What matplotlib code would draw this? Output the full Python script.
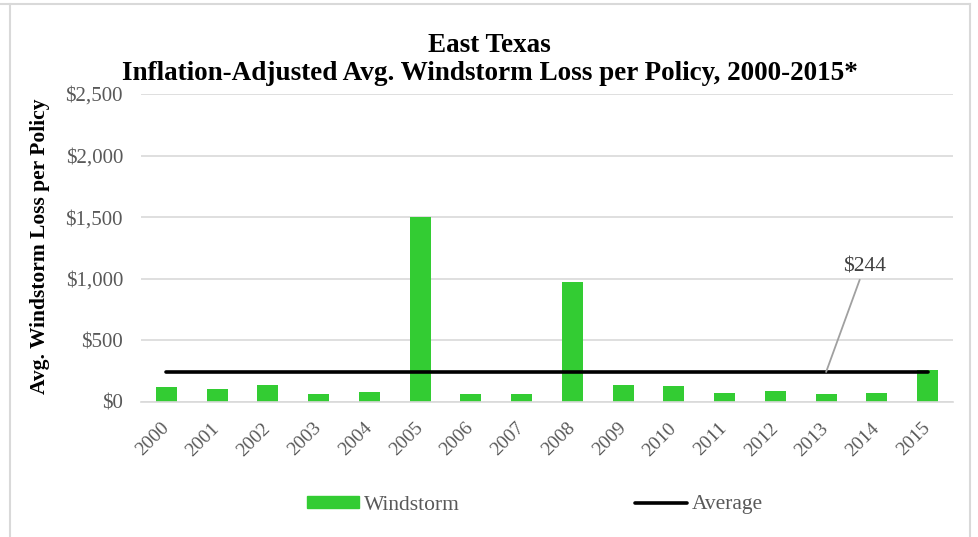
import matplotlib
matplotlib.use('Agg')
import matplotlib.pyplot as plt
from matplotlib.patches import Rectangle
from matplotlib.lines import Line2D

# Data
years = ['2000', '2001', '2002', '2003', '2004', '2005', '2006', '2007',
         '2008', '2009', '2010', '2011', '2012', '2013', '2014', '2015']
windstorm = [119, 106, 138, 62, 79, 1502, 62, 65,
             974, 140, 127, 71, 87, 62, 71, 257]
average = 244
yticks = [0, 500, 1000, 1500, 2000, 2500]

plt.rcParams['font.family'] = ['Liberation Serif', 'DejaVu Serif']

W, H = 979, 537
fig = plt.figure(figsize=(W / 100, H / 100), dpi=100)
ax = fig.add_axes([141 / W, 1 - 402 / H, 812 / W, 308 / H])

x = range(len(years))
ax.bar(x, windstorm, width=0.41, color='#33cc33', zorder=2)
ax.plot([0, len(years) - 1], [average] * 2, color='black', lw=2.6,
        solid_capstyle='round', zorder=3)

ax.annotate('$244', xy=(13.0, average), xytext=(13.75, 1015),
            ha='center', va='bottom', fontsize=15.5, color='#404040',
            arrowprops=dict(arrowstyle='-', color='#a0a0a0', lw=1.3,
                            shrinkA=0, shrinkB=0))

ax.set_xlim(-0.5, len(years) - 0.5)
ax.set_ylim(0, 2500)
ax.set_yticks(yticks)
ax.set_yticklabels(['${:,}'.format(v) for v in yticks], fontsize=15, color='#595959')
ax.tick_params(axis='y', length=0, pad=13)
ax.set_xticks(list(x))
ax.set_xticklabels(years, rotation=45, ha='right', va='center',
                   rotation_mode='anchor', fontsize=14, color='#595959')
ax.tick_params(axis='x', length=0, pad=17)

ax.grid(axis='y', color='#d9d9d9', lw=1.2, zorder=0)
for s in ['top', 'right', 'left']:
    ax.spines[s].set_visible(False)
ax.spines['bottom'].set_color('#d9d9d9')
ax.spines['bottom'].set_linewidth(1.2)

ax.set_ylabel('Avg. Windstorm Loss per Policy', fontsize=15.5, fontweight='bold')
ax.yaxis.set_label_coords(50 / W, 1 - 246 / H, transform=fig.transFigure)

fig.text(0.5, 1 - 45 / H, 'East Texas', ha='center', va='center',
         fontsize=19.5, fontweight='bold')
fig.text(0.5, 1 - 73 / H, 'Inflation-Adjusted Avg. Windstorm Loss per Policy, 2000-2015*',
         ha='center', va='center', fontsize=19.5, fontweight='bold')

handles = [Rectangle((0, 0), 1, 1, color='#33cc33'),
           Line2D([0], [0], color='black', lw=2.6, solid_capstyle='round')]
fig.legend(handles, ['Windstorm', 'Average'], loc='center',
           bbox_to_anchor=(535 / W, 1 - 505 / H), ncol=2, frameon=False,
           fontsize=15.5, labelcolor='#595959', handlelength=2.42,
           handleheight=0.47, handletextpad=0.23, columnspacing=8.1)

# chart frame
border = dict(color='#d9d9d9', lw=1.5, transform=fig.transFigure)
fig.add_artist(Line2D([0, 970 / W], [1 - 4 / H] * 2, **border))
fig.add_artist(Line2D([10 / W] * 2, [0, 1 - 4 / H], **border))
fig.add_artist(Line2D([970 / W] * 2, [0, 1 - 4 / H], **border))

fig.savefig('out.png', dpi=100)
